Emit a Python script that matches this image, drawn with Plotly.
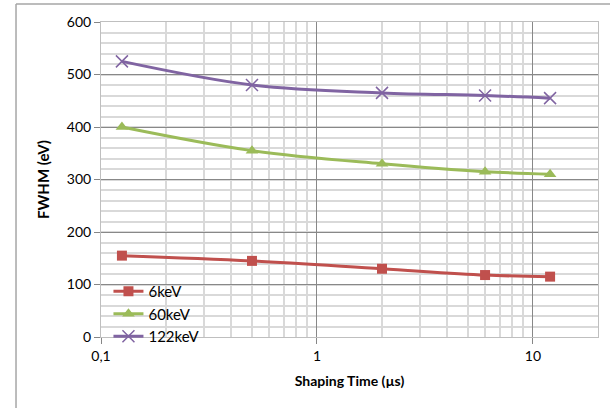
import plotly.graph_objects as go

shaping_time = [0.125, 0.5, 2, 6, 12]
fwhm_6kev = [155, 145, 130, 118, 115]
fwhm_60kev = [400, 355, 330, 315, 310]
fwhm_122kev = [525, 480, 465, 460, 455]

x_tick_vals = [0.1, 1, 10]
x_tick_text = ["0,1", "1", "10"]
x_minor_vals = [0.2, 0.3, 0.4, 0.5, 0.6, 0.7, 0.8, 0.9, 2, 3, 4, 5, 6, 7, 8, 9, 20]
y_tick_vals = [0, 100, 200, 300, 400, 500, 600]

FONT = "Lato, Open Sans, sans-serif"

fig = go.Figure()
fig.add_trace(go.Scatter(x=shaping_time, y=fwhm_6kev, name="6keV", mode="lines+markers",
                         line=dict(color="#C0504D", width=3, shape="spline"),
                         marker=dict(symbol="square", size=10, color="#C0504D")))
fig.add_trace(go.Scatter(x=shaping_time, y=fwhm_60kev, name="60keV", mode="lines+markers",
                         line=dict(color="#9BBB59", width=3, shape="spline"),
                         marker=dict(symbol="triangle-up", size=11, color="#9BBB59")))
fig.add_trace(go.Scatter(x=shaping_time, y=fwhm_122kev, name="122keV", mode="lines+markers",
                         line=dict(color="#8064A2", width=3, shape="spline"),
                         marker=dict(symbol="x-thin-open", size=12,
                                     line=dict(color="#A896C4", width=1.5))))

fig.update_layout(
    width=610, height=408,
    margin=dict(l=101, r=12, t=22, b=71),
    paper_bgcolor="white", plot_bgcolor="white",
    font=dict(family=FONT, size=14, color="#000000"),
    showlegend=True,
    legend=dict(x=0.015, y=0.197, xanchor="left", yanchor="top",
                bgcolor="rgba(0,0,0,0)", font=dict(size=15),
                tracegroupgap=0, itemwidth=30),
    xaxis=dict(type="log", range=[-1, 1.301],
               tickmode="array", tickvals=x_tick_vals, ticktext=x_tick_text,
               ticks="outside", ticklen=6, tickcolor="#868686",
               showgrid=True, gridcolor="#888888", gridwidth=1,
               showline=True, linecolor="#BFBFBF", mirror=True,
               zeroline=False,
               minor=dict(tickmode="array", tickvals=x_minor_vals, showgrid=True,
                          gridcolor="#D9D9D9", gridwidth=1.5, ticks=""),
               title=dict(text="<b>Shaping Time (µs)</b>", font=dict(size=14), standoff=13)),
    yaxis=dict(range=[0, 600], tickmode="array", tickvals=y_tick_vals,
               ticks="outside", ticklen=6, tickcolor="#868686",
               showgrid=True, gridcolor="#888888", gridwidth=1,
               showline=True, linecolor="#BFBFBF", mirror=True,
               zeroline=False,
               minor=dict(dtick=20, showgrid=True, gridcolor="#D9D9D9", gridwidth=1.5, ticks=""),
               title=dict(text="<b>FWHM (eV)</b>", font=dict(size=15), standoff=13)),
)

fig.add_shape(type="line", xref="paper", yref="paper", x0=-0.171, x1=-0.171, y0=-0.3, y1=1.0571,
              line=dict(color="#A6A6A6", width=1.5))
fig.add_shape(type="line", xref="paper", yref="paper", x0=-0.171, x1=1.03, y0=1.0571, y1=1.0571,
              line=dict(color="#A6A6A6", width=1.5))

fig.write_html("out.html")
